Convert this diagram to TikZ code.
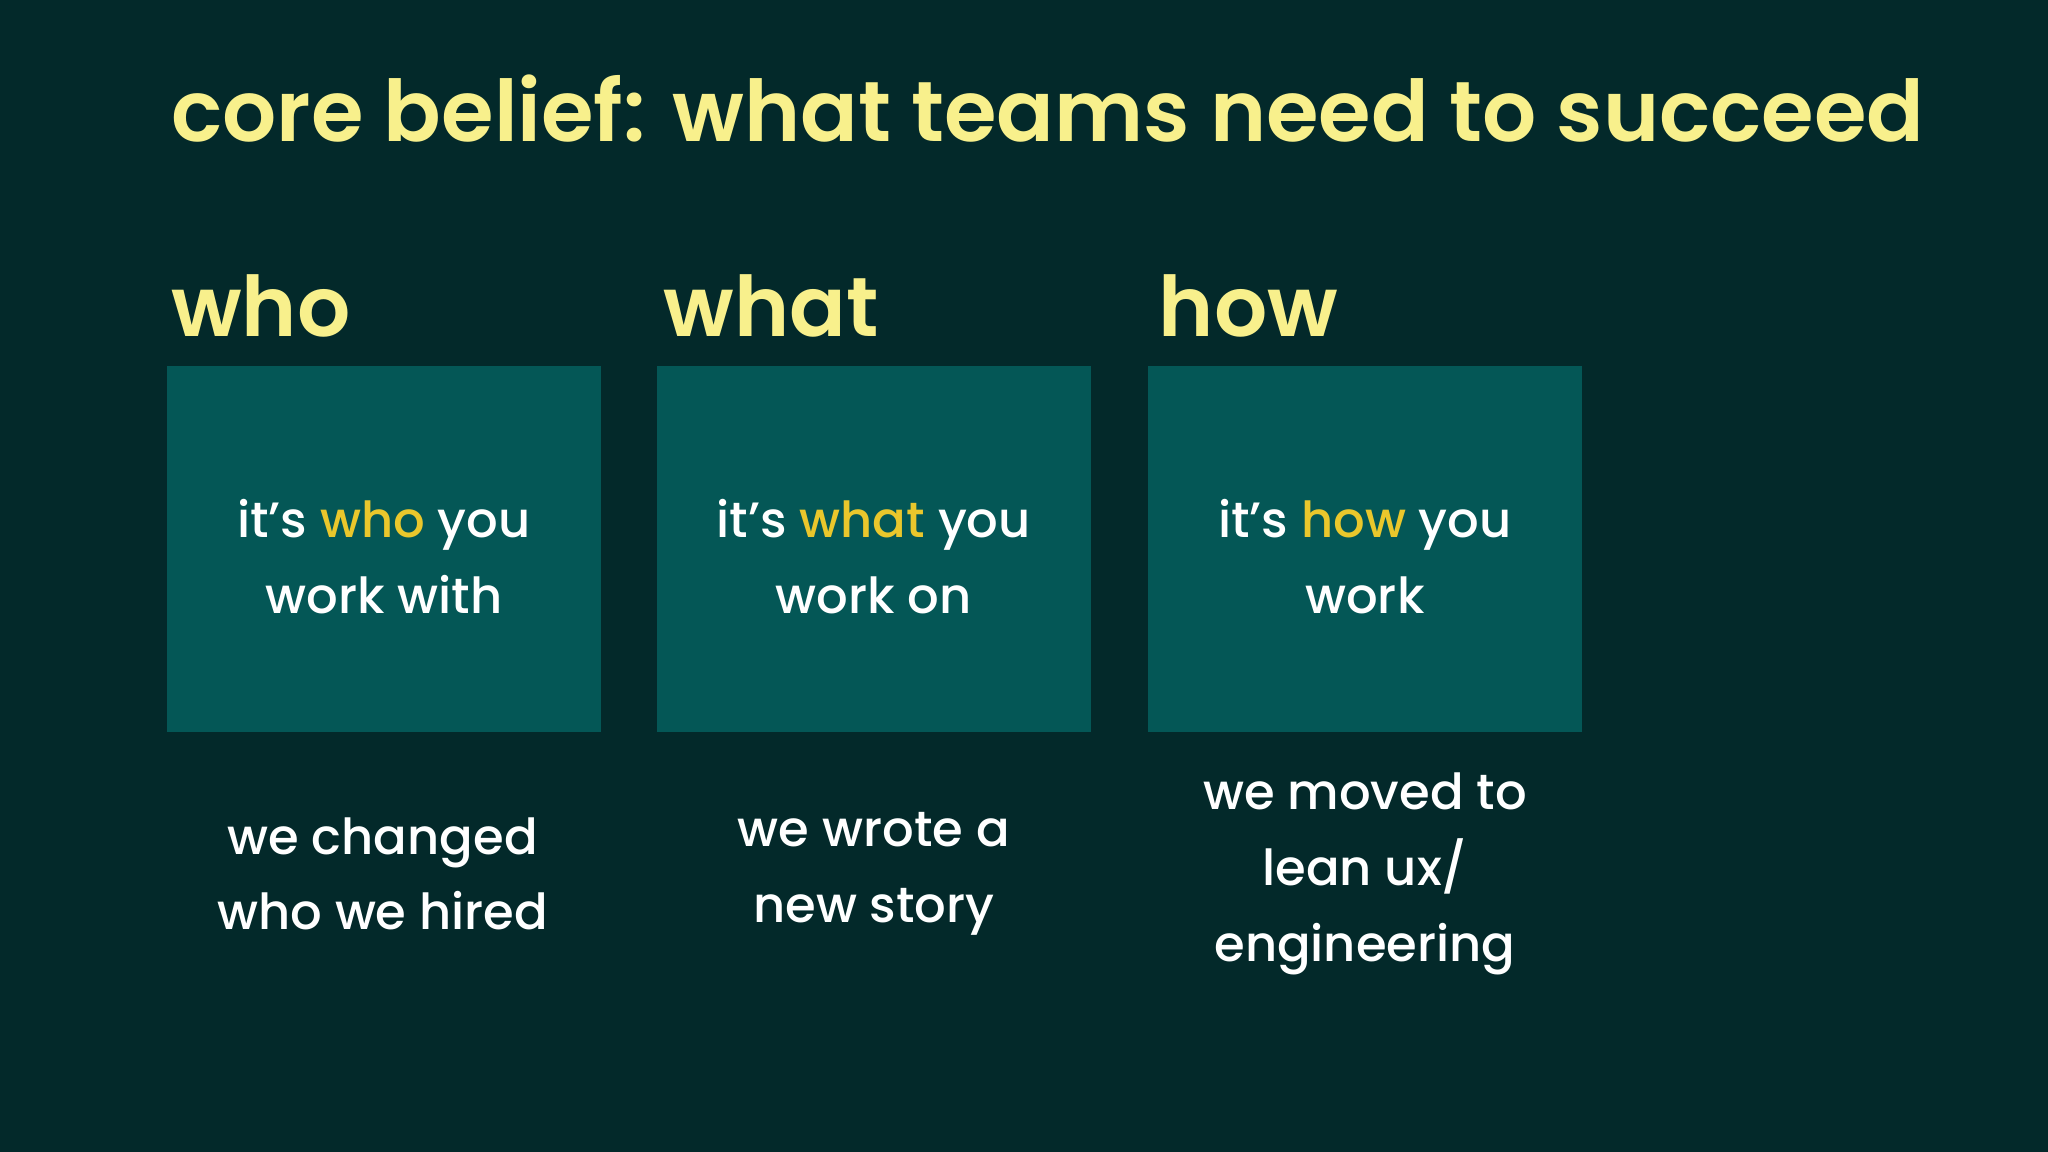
\documentclass[tikz,border=0pt]{standalone}
\usepackage{fontspec}
\setmainfont{Poppins}[UprightFont=* Medium,BoldFont=* SemiBold]
\definecolor{bg}{HTML}{03292A}
\definecolor{boxc}{HTML}{045756}
\definecolor{ttl}{HTML}{F8F08C}
\definecolor{hl}{HTML}{EAC72C}
\tikzset{
 x=1pt,y=-1pt,
 panel/.style={fill=boxc,draw=none,minimum width=332pt,minimum height=280pt,inner sep=0pt},
 head/.style={text=ttl,anchor=base west,font=\bfseries\fontsize{64}{70}\selectfont,inner sep=0pt},
 body/.style={text=white,align=center,font=\fontsize{38}{58}\selectfont,inner sep=0pt}
}
\begin{document}
\begin{tikzpicture}
\fill[bg] (0,0) rectangle (1568,882);
\useasboundingbox (0,0) rectangle (1568,882);
\node[text=ttl,anchor=base west,font=\bfseries\fontsize{60}{66}\selectfont,inner sep=0pt] (title) at (131,108) {\resizebox{1342pt}{!}{core belief: what teams need to succeed}};
\node[head] (h1) at (131,258) {who};
\node[head] (h2) at (508,258) {what};
\node[head] (h3) at (887,258) {how};
\node[panel,anchor=north west] (b1) at (128,280) {};
\node[panel,anchor=north west] (b2) at (503,280) {};
\node[panel,anchor=north west] (b3) at (879,280) {};
\node[body] (t1) at (294,426) {it’s \textcolor{hl}{who} you\\work with};
\node[body] (t2) at (669,426) {it’s \textcolor{hl}{what} you\\work on};
\node[body] (t3) at (1045,426) {it’s \textcolor{hl}{how} you\\work};
\node[body] (u1) at (293,669) {we changed\\who we hired};
\node[body] (u2) at (669,669) {we wrote a\\new story};
\node[body] (u3) at (1045,669) {we moved to\\lean ux/\\engineering};
\end{tikzpicture}
\end{document}
